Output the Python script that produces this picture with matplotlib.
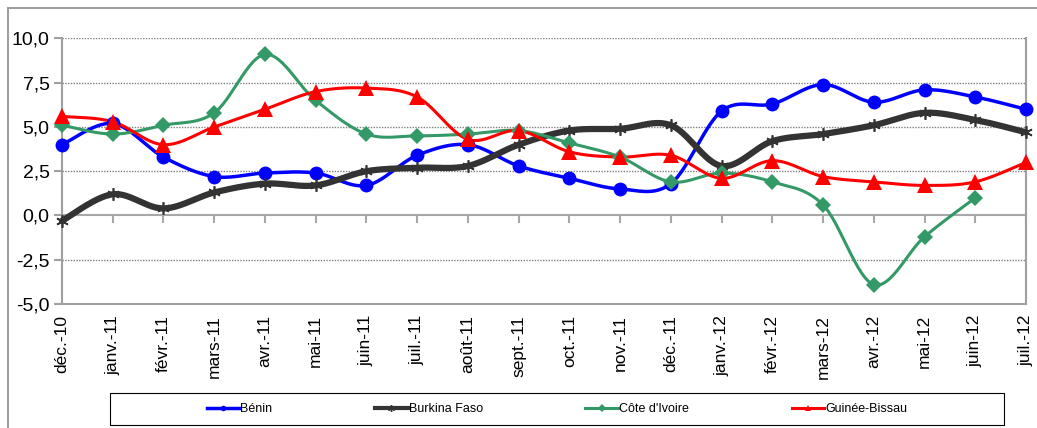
import numpy as np
import matplotlib
matplotlib.use("Agg")
from matplotlib import pyplot as plt
from matplotlib.lines import Line2D
from matplotlib.patches import Rectangle

plt.rcParams['font.family'] = ['Liberation Sans', 'DejaVu Sans']

months = ["déc.-10", "janv.-11", "févr.-11", "mars-11", "avr.-11", "mai-11",
          "juin-11", "juil.-11", "août-11", "sept.-11", "oct.-11", "nov.-11",
          "déc.-11", "janv.-12", "févr.-12", "mars-12", "avr.-12", "mai-12",
          "juin-12", "juil.-12"]
benin = [4.0, 5.2, 3.3, 2.2, 2.4, 2.4, 1.7, 3.4, 4.0, 2.8, 2.1, 1.5,
         1.8, 5.9, 6.3, 7.4, 6.4, 7.1, 6.7, 6.0]
burkina = [-0.3, 1.2, 0.4, 1.3, 1.8, 1.7, 2.5, 2.7, 2.8, 4.0, 4.8, 4.9,
           5.1, 2.8, 4.2, 4.6, 5.1, 5.8, 5.4, 4.7]
cote = [5.1, 4.6, 5.1, 5.8, 9.1, 6.5, 4.6, 4.5, 4.6, 4.8, 4.1, 3.3,
        1.9, 2.4, 1.9, 0.6, -3.9, -1.2, 1.0, np.nan]
guinee = [5.6, 5.3, 4.0, 5.0, 6.0, 7.0, 7.2, 6.7, 4.3, 4.8, 3.6, 3.3,
          3.4, 2.1, 3.1, 2.2, 1.9, 1.7, 1.9, 3.0]
yticks = [-5, -2.5, 0, 2.5, 5, 7.5, 10]
ytick_labels = ["-5,0", "-2,5", "0,0", "2,5", "5,0", "7,5", "10,0"]


def smooth(x, y, steps=30):
    # Excel-like smoothed line: Catmull-Rom segments as cubic Bezier
    p = np.column_stack([x, y])
    n = len(p)
    out = [p[0]]
    t = np.linspace(0, 1, steps)[1:, None]
    for i in range(n - 1):
        p0 = p[i - 1] if i > 0 else p[i]
        p3 = p[i + 2] if i + 2 < n else p[i + 1]
        p1, p2 = p[i], p[i + 1]
        c1 = p1 + (p2 - p0) / 6
        c2 = p2 - (p3 - p1) / 6
        seg = ((1 - t) ** 3 * p1 + 3 * (1 - t) ** 2 * t * c1
               + 3 * (1 - t) * t ** 2 * c2 + t ** 3 * p2)
        out.extend(seg)
    out = np.array(out)
    return out[:, 0], out[:, 1]


W, H = 1037, 428
fig = plt.figure(figsize=(W / 100, H / 100), dpi=100)
ax = fig.add_axes([62 / W, 1 - 304 / H, (1026 - 62) / W, (304 - 38.5) / H])

series = [
    ("Bénin", benin, "#0000FF", 2.5, "o", 10, 8),
    ("Burkina Faso", burkina, "#333333", 4.5, (6, 2, 0), 9, 1.2),
    ("Côte d'Ivoire", cote, "#339966", 2.2, "D", 8, 7),
    ("Guinée-Bissau", guinee, "#FF0000", 2.2, "^", 11, 8),
]

x = np.arange(len(months))
handles = []
for name, vals, col, lw, mk, ms, msl in series:
    vals = np.array(vals, dtype=float)
    ok = ~np.isnan(vals)
    sx, sy = smooth(x[ok], vals[ok])
    ax.plot(sx, sy, color=col, lw=lw, solid_capstyle='round', clip_on=False, zorder=3)
    mew = 1.2 if mk == (6, 2, 0) else 0
    ax.plot(x[ok], vals[ok], linestyle='none', marker=mk, ms=ms, color=col,
            mec=col, mew=mew, clip_on=False, zorder=4)
    handles.append(Line2D([], [], color=col, lw=min(lw, 3), marker=mk, ms=4 if mk != (6, 2, 0) else 5,
                          mew=1 if mk == (6, 2, 0) else 0, label=name))

ax.set_xlim(0, len(months) - 1)
ax.set_ylim(-5, 10)
ax.set_yticks(yticks)
ax.set_yticklabels(ytick_labels, fontsize=14)
ax.set_xticks(x)
ax.set_xticklabels(months, rotation=90, fontsize=12.5)
ax.tick_params(axis='x', length=0, pad=8)
ax.tick_params(axis='y', length=6, color='#A0A0A0', width=1.5, pad=3)

for v in yticks:
    if v not in (0, -5):
        ax.axhline(v, color='#808080', lw=1, ls=(0, (1, 1)), zorder=1)
ax.axhline(0, color='#A8A8A8', lw=1.5, zorder=2)
ax.plot(x, np.zeros(len(x)), linestyle='none', marker=3, ms=6, mew=1.5,
        color='#A8A8A8', clip_on=False, zorder=2)

ax.spines['top'].set_visible(False)
for s in ('left', 'bottom', 'right'):
    ax.spines[s].set_color('#A0A0A0')
    ax.spines[s].set_linewidth(1.5)

# legend box
fig.patches.append(Rectangle((110 / W, 1 - 425 / H), (1004 - 110) / W, 32 / H,
                             transform=fig.transFigure, fill=False,
                             edgecolor='#000000', lw=0.8))
fig.legend(handles=handles, loc='center', bbox_to_anchor=(557 / W, 1 - 409 / H),
           ncol=4, frameon=False, fontsize=9, handlelength=2.6,
           handletextpad=0.1, columnspacing=8.2)

# outer chart border
fig.patches.append(Rectangle((8 / W, -0.05), 1.1, 1 - 8 / H + 0.05,
                             transform=fig.transFigure, fill=False,
                             edgecolor='#A0A0A0', lw=1.5))

fig.savefig("out.png", dpi=100)
